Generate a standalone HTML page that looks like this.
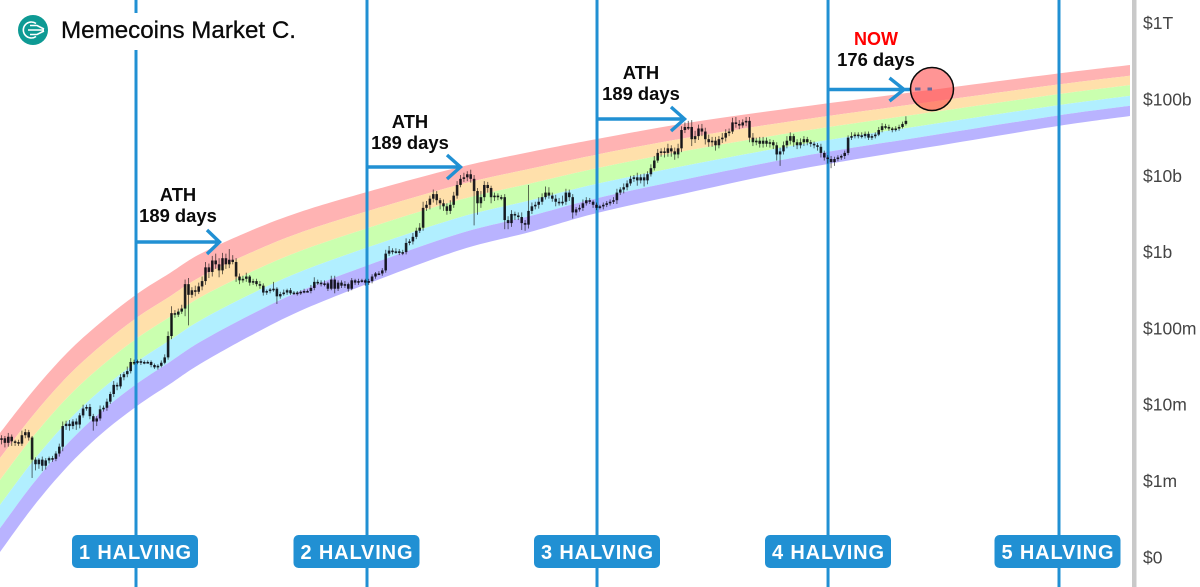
<!DOCTYPE html>
<html lang="en">
<head>
<meta charset="utf-8">
<title>Memecoins Market Cap Halving Rainbow Chart</title>
<style>
html,body{margin:0;padding:0;background:#fff;width:1200px;height:587px;overflow:hidden}
svg{display:block;font-family:"Liberation Sans",sans-serif}
#candles{filter:blur(0.3px)}
</style>
</head>
<body>
<svg id="chart" width="1200" height="587" viewBox="0 0 1200 587" xmlns="http://www.w3.org/2000/svg">
<rect x="0" y="0" width="1200" height="587" fill="#ffffff"/>
<g id="bands"></g>
<g id="halvings"></g>
<g id="candles"></g>
<g id="axis"></g>

<g>
<text x="178" y="201" font-size="18.400" font-weight="700" text-anchor="middle" fill="#0a0a0a">ATH</text>
<text x="178" y="222" font-size="18.400" font-weight="700" text-anchor="middle" fill="#0a0a0a">189 days</text>
<path d="M136 242H219M207 230L219.500 242L207 254" fill="none" stroke="#2190d3" stroke-width="3.400"/>
</g>
<g>
<text x="410" y="128" font-size="18.400" font-weight="700" text-anchor="middle" fill="#0a0a0a">ATH</text>
<text x="410" y="149" font-size="18.400" font-weight="700" text-anchor="middle" fill="#0a0a0a">189 days</text>
<path d="M367 167H460M447 155L460.500 167L447 179" fill="none" stroke="#2190d3" stroke-width="3.400"/>
</g>
<g>
<text x="641" y="79" font-size="18.400" font-weight="700" text-anchor="middle" fill="#0a0a0a">ATH</text>
<text x="641" y="100" font-size="18.400" font-weight="700" text-anchor="middle" fill="#0a0a0a">189 days</text>
<path d="M597 119H684M671 107L684.500 119L671 131" fill="none" stroke="#2190d3" stroke-width="3.400"/>
</g>
<g>
<text x="876" y="45" font-size="18" font-weight="700" text-anchor="middle" fill="#ff0000">NOW</text>
<text x="876" y="66" font-size="18.400" font-weight="700" text-anchor="middle" fill="#0a0a0a">176 days</text>
<path d="M828 89.500H910M889.500 78L904 89.500L889.500 101" fill="none" stroke="#2190d3" stroke-width="3.400"/>
<circle cx="932" cy="89" r="21.500" fill="#ff4f4f" fill-opacity="0.6" stroke="#0a0a0a" stroke-width="1.500"/>
<rect x="915" y="87.500" width="5.500" height="3" fill="#6a6a9a"/>
<rect x="927.500" y="87.500" width="4.500" height="3" fill="#6a6a9a"/>
</g>

<g>
<rect x="0" y="13" width="304" height="37" fill="#ffffff"/>
<circle cx="33" cy="30" r="15" fill="#0e9a94"/>
<path transform="translate(3 0)" d="M33 23.500A8 8 0 1 0 33 36.500M27 25.500L34 25.500L41 29M25 30H41M27 34.500L34 34.500L41 31" fill="none" stroke="#ffffff" stroke-width="1.600"/>
<text x="61" y="38" font-size="24.500" textLength="235" lengthAdjust="spacingAndGlyphs" fill="#0a0a0a" stroke="#0a0a0a" stroke-width="0.300">Memecoins Market C.</text>
</g>
<g id="badges"></g>
</svg>

<script>
const closes = [
6.56,6.50,6.58,6.52,6.51,6.49,6.60,6.64,6.57,6.28,
6.22,6.28,6.20,6.27,6.30,6.29,6.36,6.45,6.72,6.75,
6.72,6.78,6.74,6.86,6.95,6.97,6.85,6.78,6.82,6.94,
6.96,7.04,7.14,7.26,7.24,7.36,7.40,7.44,7.56,7.55,
7.57,7.55,7.56,7.56,7.52,7.49,7.51,7.55,7.62,7.90,
8.20,8.18,8.22,8.26,8.58,8.44,8.50,8.48,8.55,8.62,
8.80,8.74,8.89,8.84,8.76,8.92,8.84,8.90,8.87,8.68,
8.63,8.65,8.68,8.60,8.62,8.58,8.56,8.47,8.49,8.51,
8.52,8.42,8.45,8.47,8.50,8.46,8.47,8.46,8.48,8.49,
8.49,8.53,8.61,8.60,8.58,8.59,8.52,8.64,8.52,8.60,
8.56,8.58,8.52,8.63,8.60,8.62,8.63,8.60,8.62,8.68,
8.72,8.72,8.76,8.98,9.02,9.00,9.01,8.99,9.00,9.12,
9.14,9.20,9.28,9.32,9.58,9.62,9.70,9.76,9.68,9.64,
9.60,9.54,9.62,9.74,9.88,9.96,9.98,10.02,9.96,9.80,
9.64,9.72,9.88,9.84,9.72,9.74,9.72,9.72,9.42,9.38,
9.50,9.48,9.46,9.38,9.36,9.54,9.60,9.62,9.66,9.72,
9.78,9.74,9.70,9.66,9.64,9.66,9.78,9.72,9.52,9.56,
9.58,9.64,9.68,9.66,9.62,9.58,9.60,9.62,9.64,9.66,
9.68,9.78,9.82,9.85,9.90,9.96,9.98,9.94,9.98,9.94,
10.02,10.10,10.20,10.30,10.32,10.30,10.36,10.32,10.28,10.36,
10.60,10.64,10.64,10.48,10.52,10.62,10.58,10.48,10.44,10.46,
10.40,10.48,10.50,10.56,10.58,10.70,10.68,10.66,10.70,10.72,
10.50,10.44,10.46,10.42,10.46,10.42,10.44,10.40,10.28,10.32,
10.40,10.46,10.52,10.44,10.40,10.44,10.48,10.44,10.42,10.40,
10.38,10.30,10.24,10.22,10.18,10.22,10.24,10.26,10.30,10.50,
10.52,10.54,10.53,10.52,10.55,10.50,10.52,10.54,10.60,10.65,
10.64,10.62,10.60,10.62,10.64,10.68,10.72
];
const wickUp = [
4,3,5,3,2,3,6,4,3,2,
3,2,4,3,2,3,3,4,6,4,
5,3,4,3,5,3,4,3,3,5,
3,4,3,5,3,4,3,6,5,3,
2,3,2,2,2,2,2,3,4,6,
9,4,4,5,6,8,4,6,5,6,
7,5,6,9,8,7,6,14,6,5,
4,4,5,2,3,3,4,3,2,2,
9,2,3,4,2,3,2,2,2,3,
2,4,6,3,3,4,2,5,5,3,
3,4,2,3,2,3,2,2,3,3,
2,3,3,5,6,3,4,3,3,6,
3,5,4,6,8,5,4,6,4,3,
5,4,6,5,5,5,6,4,6,5,
4,8,5,4,3,4,3,3,4,5,
5,3,4,6,4,34,5,4,6,5,
8,7,4,5,5,8,5,4,4,3,
4,5,4,3,2,3,2,3,3,3,
4,5,3,5,4,4,3,6,4,5,
4,5,6,5,4,5,6,4,5,6,
5,6,8,9,7,5,6,5,6,5,
5,4,6,5,4,6,7,5,4,5,
5,6,4,5,5,4,4,3,4,5,
5,6,5,3,4,5,4,3,3,3,
3,4,3,3,4,3,3,2,3,3,
5,3,3,4,3,3,3,3,4,4,
3,3,2,3,3,3,6
];
const wickDown = [
8,6,5,6,5,3,3,4,4,24,
8,6,7,5,4,4,3,4,6,5,
6,4,7,5,3,3,4,12,6,3,
3,4,3,4,5,3,4,4,3,3,
2,3,2,2,3,2,3,2,2,3,
4,4,3,3,10,40,4,6,3,5,
5,8,6,6,9,5,6,5,3,7,
5,3,4,4,3,3,4,4,3,3,
3,10,3,2,3,2,2,3,2,2,
2,3,3,3,3,3,3,2,6,3,
3,3,4,2,3,3,2,4,3,3,
3,2,3,3,3,3,2,3,3,3,
3,4,3,3,4,4,6,5,6,8,
6,5,4,4,4,3,4,5,5,45,
15,6,5,6,8,5,4,4,12,8,
5,6,4,9,8,5,4,4,5,4,
3,4,4,6,3,3,4,5,8,4,
3,4,3,3,4,3,2,4,3,3,
3,5,3,5,4,3,4,7,4,8,
5,3,3,3,5,6,5,7,7,5,
5,4,4,9,5,5,6,7,6,6,
7,4,5,5,4,3,5,5,3,5,
6,5,4,5,5,4,5,5,8,15,
4,4,5,6,5,4,5,4,4,4,
5,6,4,6,8,5,3,3,4,3,
3,3,4,3,3,3,3,3,2,3,
3,3,3,2,3,2,2
];
const bandPeriods = [-0.44,9.26,19.26,28.97,39.85,49.56,58.38,73.09,87.79,107.5,134.85,155.44,175.15,201.6,234.85,273.09,310.74,331.91];
const bandUpper = [6.629,7.180,7.678,8.071,8.451,8.726,8.975,9.277,9.526,9.788,10.115,10.312,10.482,10.692,10.902,11.124,11.341,11.452];
const bandLower = [5.069,5.659,6.183,6.603,6.983,7.271,7.533,7.900,8.228,8.582,9.028,9.263,9.512,9.775,10.089,10.377,10.653,10.784];
const bandShares = [0.21,0.185,0.21,0.195,0.20];
const bandNames = ['red','orange','green','blue','purple'];
const halvingPeriods = [39.56,107.5,175.15,243.1,311.03];
const halvingLabels = ['1 HALVING','2 HALVING','3 HALVING','4 HALVING','5 HALVING'];
const tickValues = [12,11,10,9,8,7,6,5];
const tickLabels = ['$1T','$100b','$10b','$1b','$100m','$10m','$1m','$0'];

const NS = 'http://www.w3.org/2000/svg';
const bandColors = ['#ffb3b3','#ffe0ab','#caffaf','#b1efff','#b9b3ff'];
const xScale = p => 1.5 + 3.4 * p;
const yScale = v => 481 - (v - 6) * 76.3;
const round = n => Math.round(n * 100) / 100;

function smoothPoints(pts, reverse) {
  const list = reverse ? pts.slice().reverse() : pts;
  let d = '';
  for (let i = 0; i < list.length - 1; i++) {
    const p0 = list[Math.max(i - 1, 0)];
    const p1 = list[i];
    const p2 = list[i + 1];
    const p3 = list[Math.min(i + 2, list.length - 1)];
    const c1x = p1[0] + (p2[0] - p0[0]) / 6;
    const c1y = p1[1] + (p2[1] - p0[1]) / 6;
    const c2x = p2[0] - (p3[0] - p1[0]) / 6;
    const c2y = p2[1] - (p3[1] - p1[1]) / 6;
    d += 'C' + round(c1x) + ' ' + round(c1y) + ' ' + round(c2x) + ' ' + round(c2y) + ' ' + round(p2[0]) + ' ' + round(p2[1]);
  }
  return d;
}

const bandsGroup = document.getElementById('bands');
let cumulative = 0;
bandShares.forEach((share, b) => {
  const from = cumulative;
  const to = cumulative + share;
  cumulative = to;
  const edgeAt = f => bandPeriods.map((p, i) => [xScale(p), yScale(bandUpper[i] + (bandLower[i] - bandUpper[i]) * f)]);
  const top = edgeAt(from);
  const bot = edgeAt(to);
  const last = bot[bot.length - 1];
  const d = 'M' + round(top[0][0]) + ' ' + round(top[0][1]) + smoothPoints(top, false) +
            'L' + round(last[0]) + ' ' + round(last[1]) + smoothPoints(bot, true) + 'Z';
  const el = document.createElementNS(NS, 'path');
  el.setAttribute('d', d);
  el.setAttribute('fill', bandColors[b]);
  
  
  bandsGroup.appendChild(el);
});

const halvingGroup = document.getElementById('halvings');
halvingPeriods.forEach((p, i) => {
  const el = document.createElementNS(NS, 'line');
  el.setAttribute('x1', round(xScale(p)));
  el.setAttribute('x2', round(xScale(p)));
  el.setAttribute('y1', 0);
  el.setAttribute('y2', 587);
  el.setAttribute('stroke', '#2190d3');
  el.setAttribute('stroke-width', 3);
  
  
  halvingGroup.appendChild(el);
});

const candleGroup = document.getElementById('candles');
closes.forEach((close, i) => {
  const open = i === 0 ? close : closes[i - 1];
  const hi = Math.max(open, close) + (wickUp[i] || 0) / 100;
  const lo = Math.min(open, close) - (wickDown[i] || 0) / 100;
  const cx = xScale(i);
  const g = document.createElementNS(NS, 'g');
  
  
  const wick = document.createElementNS(NS, 'line');
  wick.setAttribute('x1', round(cx));
  wick.setAttribute('x2', round(cx));
  wick.setAttribute('y1', round(yScale(hi)));
  wick.setAttribute('y2', round(yScale(lo)));
  wick.setAttribute('stroke', '#0c0c0c');
  wick.setAttribute('stroke-opacity', 0.6);
  wick.setAttribute('stroke-width', 1);
  
  
  g.appendChild(wick);
  const bodyTop = yScale(Math.max(open, close));
  const bodyH = Math.max(Math.abs(yScale(open) - yScale(close)), 1.6);
  const body = document.createElementNS(NS, 'rect');
  body.setAttribute('x', round(cx - 1.3));
  body.setAttribute('width', 2.6);
  body.setAttribute('y', round(bodyTop));
  body.setAttribute('height', round(bodyH));
  body.setAttribute('fill', '#06060e');
  body.setAttribute('fill-opacity', 0.85);
  
  
  g.appendChild(body);
  candleGroup.appendChild(g);
});

const axisGroup = document.getElementById('axis');
const axisLine = document.createElementNS(NS, 'rect');
axisLine.setAttribute('x', 1132);
axisLine.setAttribute('y', 0);
axisLine.setAttribute('width', 4.5);
axisLine.setAttribute('height', 587);
axisLine.setAttribute('fill', '#c9c9c9');


axisGroup.appendChild(axisLine);
tickValues.forEach((v, i) => {
  const t = document.createElementNS(NS, 'text');
  t.setAttribute('x', 1143);
  t.setAttribute('y', round(yScale(v) + 6));
  t.setAttribute('font-size', 17.5);
  t.setAttribute('fill', '#444444');
  
  
  t.textContent = tickLabels[i];
  axisGroup.appendChild(t);
});

const badgeGroup = document.getElementById('badges');
const badgeCenters = [135, 356.500, 597, 828, 1057.500];
halvingLabels.forEach((label, i) => {
  const cx = badgeCenters[i];
  const r = document.createElementNS(NS, 'rect');
  r.setAttribute('x', cx - 63);
  r.setAttribute('y', 535);
  r.setAttribute('width', 126);
  r.setAttribute('height', 33);
  r.setAttribute('rx', 5);
  r.setAttribute('fill', '#2190d3');
  
  
  badgeGroup.appendChild(r);
  const t = document.createElementNS(NS, 'text');
  t.setAttribute('x', cx - 56);
  t.setAttribute('y', 559);
  t.setAttribute('font-size', 20);
  t.setAttribute('font-weight', 700);
  t.setAttribute('fill', '#ffffff');
  t.setAttribute('textLength', 112);
  t.setAttribute('lengthAdjust', 'spacing');
  
  
  t.textContent = label;
  badgeGroup.appendChild(t);
});
</script>
</body>
</html>
